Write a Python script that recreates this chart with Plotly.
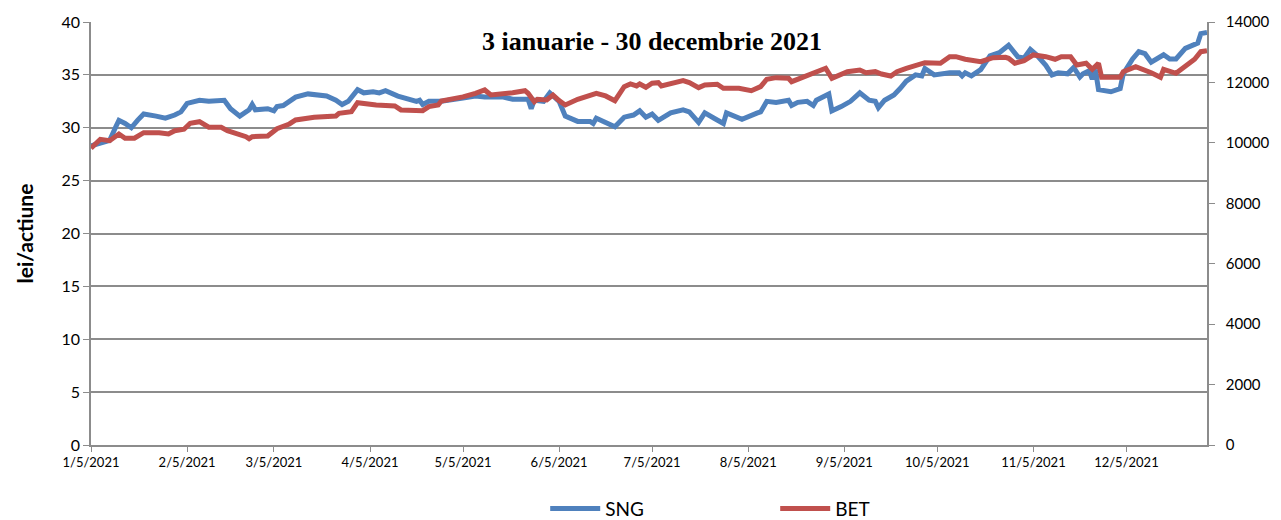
import plotly.graph_objects as go

# SNG - pret actiune (lei/actiune), axa stanga
sng_dates = ['2021-01-05', '2021-01-08', '2021-01-11', '2021-01-13', '2021-01-14', '2021-01-16',
             '2021-01-18', '2021-01-20', '2021-01-22', '2021-01-26', '2021-01-29', '2021-02-01',
             '2021-02-03', '2021-02-05', '2021-02-09', '2021-02-12', '2021-02-17', '2021-02-19',
             '2021-02-22', '2021-02-25', '2021-02-26', '2021-02-27', '2021-03-03', '2021-03-05',
             '2021-03-06', '2021-03-08', '2021-03-10', '2021-03-12', '2021-03-16', '2021-03-22',
             '2021-03-25', '2021-03-27', '2021-03-29', '2021-04-01', '2021-04-03', '2021-04-06',
             '2021-04-08', '2021-04-10', '2021-04-14', '2021-04-20', '2021-04-21', '2021-04-22',
             '2021-04-24', '2021-04-28', '2021-05-05', '2021-05-09', '2021-05-12', '2021-05-18',
             '2021-05-21', '2021-05-26', '2021-05-27', '2021-05-28', '2021-05-31', '2021-06-02',
             '2021-06-05', '2021-06-07', '2021-06-11', '2021-06-15', '2021-06-16', '2021-06-17',
             '2021-06-23', '2021-06-26', '2021-06-29', '2021-07-01', '2021-07-03', '2021-07-05',
             '2021-07-07', '2021-07-11', '2021-07-15', '2021-07-17', '2021-07-20', '2021-07-22',
             '2021-07-25', '2021-07-28', '2021-07-29', '2021-08-03', '2021-08-08', '2021-08-09',
             '2021-08-11', '2021-08-14', '2021-08-18', '2021-08-19', '2021-08-21', '2021-08-24',
             '2021-08-26', '2021-08-27', '2021-08-31', '2021-09-01', '2021-09-04', '2021-09-06',
             '2021-09-07', '2021-09-10', '2021-09-13', '2021-09-15', '2021-09-16', '2021-09-18',
             '2021-09-21', '2021-09-23', '2021-09-25', '2021-09-28', '2021-09-30', '2021-10-01',
             '2021-10-04', '2021-10-09', '2021-10-12', '2021-10-13', '2021-10-14', '2021-10-16',
             '2021-10-19', '2021-10-22', '2021-10-25', '2021-10-28', '2021-10-31', '2021-11-02',
             '2021-11-04', '2021-11-06', '2021-11-09', '2021-11-11', '2021-11-13', '2021-11-16',
             '2021-11-18', '2021-11-20', '2021-11-21', '2021-11-23', '2021-11-24', '2021-11-25',
             '2021-11-26', '2021-11-30', '2021-12-03', '2021-12-04', '2021-12-07', '2021-12-09',
             '2021-12-11', '2021-12-13', '2021-12-16', '2021-12-17', '2021-12-19', '2021-12-21',
             '2021-12-24', '2021-12-28', '2021-12-29', '2021-12-31']
sng_values = [28.3, 28.6, 28.8, 30.1, 30.7, 30.4, 30.0, 30.7, 31.3, 31.1, 30.9, 31.2,
              31.5, 32.3, 32.6, 32.5, 32.6, 31.8, 31.1, 31.7, 32.2, 31.7, 31.8, 31.6,
              32.0, 32.1, 32.5, 32.9, 33.2, 33.0, 32.6, 32.2, 32.5, 33.6, 33.3, 33.4,
              33.3, 33.5, 33.0, 32.5, 32.6, 32.2, 32.5, 32.5, 32.8, 33.0, 32.9, 32.9,
              32.7, 32.7, 31.8, 32.6, 32.5, 33.3, 32.5, 31.1, 30.6, 30.6, 30.4, 30.9,
              30.1, 31.0, 31.2, 31.6, 31.0, 31.3, 30.7, 31.4, 31.7, 31.5, 30.5, 31.4,
              30.9, 30.4, 31.4, 30.8, 31.4, 31.5, 32.5, 32.4, 32.6, 32.1, 32.4, 32.5,
              32.1, 32.6, 33.2, 31.6, 32.0, 32.3, 32.5, 33.3, 32.6, 32.5, 31.9, 32.6,
              33.1, 33.7, 34.4, 35.0, 34.9, 35.6, 35.0, 35.2, 35.2, 34.9, 35.2, 34.9,
              35.5, 36.8, 37.1, 37.8, 36.7, 36.6, 37.4, 36.9, 35.9, 35.0, 35.2, 35.1,
              35.7, 34.8, 35.1, 35.4, 34.6, 35.5, 33.6, 33.4, 33.7, 35.1, 36.5, 37.2,
              37.0, 36.2, 36.8, 36.9, 36.5, 36.5, 37.5, 38.0, 38.9, 39.0]

# BET - indice, axa dreapta
bet_dates = ['2021-01-05', '2021-01-08', '2021-01-11', '2021-01-14', '2021-01-16', '2021-01-19',
             '2021-01-22', '2021-01-27', '2021-01-30', '2021-02-01', '2021-02-04', '2021-02-06',
             '2021-02-09', '2021-02-12', '2021-02-16', '2021-02-18', '2021-02-24', '2021-02-25',
             '2021-02-26', '2021-03-03', '2021-03-06', '2021-03-10', '2021-03-12', '2021-03-16',
             '2021-03-18', '2021-03-25', '2021-03-26', '2021-03-30', '2021-04-01', '2021-04-07',
             '2021-04-13', '2021-04-15', '2021-04-22', '2021-04-24', '2021-04-27', '2021-04-28',
             '2021-05-03', '2021-05-05', '2021-05-09', '2021-05-12', '2021-05-14', '2021-05-19',
             '2021-05-21', '2021-05-25', '2021-05-26', '2021-05-28', '2021-05-29', '2021-06-01',
             '2021-06-03', '2021-06-05', '2021-06-07', '2021-06-11', '2021-06-14', '2021-06-17',
             '2021-06-20', '2021-06-23', '2021-06-26', '2021-06-28', '2021-06-30', '2021-07-01',
             '2021-07-03', '2021-07-05', '2021-07-07', '2021-07-08', '2021-07-15', '2021-07-17',
             '2021-07-20', '2021-07-22', '2021-07-26', '2021-07-28', '2021-08-02', '2021-08-06',
             '2021-08-09', '2021-08-11', '2021-08-14', '2021-08-18', '2021-08-19', '2021-08-23',
             '2021-08-27', '2021-08-30', '2021-09-01', '2021-09-04', '2021-09-06', '2021-09-10',
             '2021-09-12', '2021-09-15', '2021-09-17', '2021-09-20', '2021-09-22', '2021-09-25',
             '2021-09-28', '2021-10-01', '2021-10-06', '2021-10-09', '2021-10-11', '2021-10-14',
             '2021-10-19', '2021-10-23', '2021-10-27', '2021-10-28', '2021-10-30', '2021-11-02',
             '2021-11-05', '2021-11-09', '2021-11-12', '2021-11-14', '2021-11-17', '2021-11-19',
             '2021-11-22', '2021-11-24', '2021-11-26', '2021-11-27', '2021-12-03', '2021-12-04',
             '2021-12-08', '2021-12-11', '2021-12-13', '2021-12-16', '2021-12-17', '2021-12-21',
             '2021-12-24', '2021-12-27', '2021-12-29', '2021-12-31']
bet_values = [9821, 10118, 10072, 10294, 10152, 10152, 10337, 10337, 10294, 10403, 10450, 10648,
              10700, 10516, 10516, 10403, 10205, 10139, 10205, 10228, 10470, 10625, 10758, 10834,
              10847, 10890, 10979, 11032, 11330, 11254, 11221, 11089, 11065, 11198, 11254, 11386,
              11453, 11520, 11641, 11751, 11585, 11618, 11661, 11727, 11641, 11363, 11443, 11420,
              11585, 11396, 11254, 11443, 11529, 11641, 11552, 11396, 11860, 11949, 11883, 11949,
              11840, 11972, 11993, 11883, 12058, 11993, 11827, 11916, 11939, 11807, 11807, 11727,
              11860, 12105, 12158, 12138, 12025, 12171, 12356, 12468, 12138, 12280, 12356, 12412,
              12323, 12356, 12280, 12214, 12356, 12468, 12545, 12654, 12634, 12853, 12853, 12767,
              12687, 12820, 12833, 12800, 12634, 12720, 12909, 12853, 12767, 12853, 12853, 12578,
              12634, 12436, 12634, 12171, 12171, 12356, 12522, 12412, 12323, 12171, 12436, 12302,
              12522, 12767, 13018, 13051]

tick_dates = ['2021-01-05', '2021-02-05', '2021-03-05', '2021-04-05', '2021-05-05', '2021-06-05',
              '2021-07-05', '2021-08-05', '2021-09-05', '2021-10-05', '2021-11-05', '2021-12-05']
tick_text = ['1/5/2021', '2/5/2021', '3/5/2021', '4/5/2021', '5/5/2021', '6/5/2021',
             '7/5/2021', '8/5/2021', '9/5/2021', '10/5/2021', '11/5/2021', '12/5/2021']

grid = '#8c8c8c'

fig = go.Figure()
fig.add_trace(go.Scatter(x=sng_dates, y=sng_values, name='SNG', mode='lines',
                         line=dict(color='#4f81bd', width=5)))
fig.add_trace(go.Scatter(x=bet_dates, y=bet_values, name='BET', mode='lines', yaxis='y2',
                         line=dict(color='#c0504d', width=5)))

# pagina are 8px margine implicita -> figura 1273x512
fig.update_layout(
    width=1273, height=512,
    margin=dict(l=83, r=74, t=14, b=75),
    plot_bgcolor='white', paper_bgcolor='white',
    font=dict(family='Lato', color='black'),
    xaxis=dict(type='date', range=['2021-01-05', '2021-12-31'],
               tickvals=tick_dates, ticktext=tick_text, tickangle=0,
               tickfont=dict(size=13), showgrid=False, automargin=False,
               showline=True, linecolor=grid, linewidth=1.5,
               ticks='outside', ticklen=5, tickcolor=grid),
    yaxis=dict(range=[0, 40], dtick=5, tickfont=dict(size=16), automargin=False,
               title=dict(text='<b>lei/actiune</b>', font=dict(size=21), standoff=22),
               showgrid=True, gridcolor=grid, gridwidth=1.5,
               showline=True, linecolor=grid, linewidth=1.5,
               ticks='outside', ticklen=6, tickcolor=grid, zeroline=False),
    yaxis2=dict(range=[0, 14000], dtick=2000, overlaying='y', side='right',
                tickformat='d', tickfont=dict(size=15), showgrid=False, automargin=False,
                ticklabelstandoff=8,
                showline=True, linecolor=grid, linewidth=1.5,
                ticks='outside', ticklen=6, tickcolor=grid, zeroline=False),
    legend=dict(orientation='h', x=0.422, xanchor='left', xref='container',
                y=0.022, yanchor='middle', yref='container',
                font=dict(size=19), entrywidth=165, itemwidth=50),
    annotations=[dict(text='<b>3 ianuarie - 30 decembrie 2021</b>', x=0.503, y=0.953,
                      xref='paper', yref='paper', xanchor='center', yanchor='middle',
                      showarrow=False, font=dict(family='Liberation Serif', size=26))],
)

fig.write_html('out.html')
